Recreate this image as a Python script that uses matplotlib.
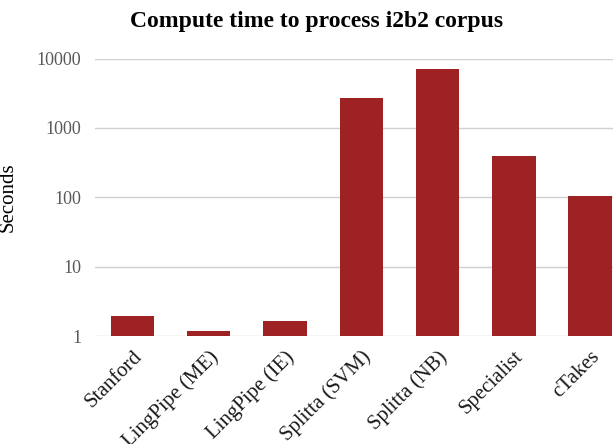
import matplotlib
matplotlib.use('Agg')
import matplotlib.pyplot as plt
from matplotlib.ticker import FixedLocator, NullLocator

# Данные с графика
tools = ['Stanford', 'LingPipe (ME)', 'LingPipe (IE)', 'Splitta (SVM)',
         'Splitta (NB)', 'Specialist', 'cTakes']
seconds = [1.95, 1.18, 1.67, 2700, 7150, 400, 106]
y_ticks = [1, 10, 100, 1000, 10000]
y_tick_labels = ['1', '10', '100', '1000', '10000']

plt.rcParams['font.family'] = ['Liberation Serif', 'DejaVu Serif']

fig = plt.figure(figsize=(6.13, 4.44), dpi=100)
ax = fig.add_axes([0.155, 0.243, 0.845, 0.625])

x = range(len(tools))
ax.bar(x, seconds, width=0.57, color='#9E2224', zorder=3)

ax.set_yscale('log')
ax.set_ylim(1, 10000)
ax.set_xlim(-0.49, 6.3)
ax.yaxis.set_major_locator(FixedLocator(y_ticks))
ax.yaxis.set_minor_locator(NullLocator())
ax.set_yticklabels(y_tick_labels, fontsize=13, color='#595959')

ax.set_xticks(list(x))
ax.set_xticklabels(tools, rotation=45, ha='right', rotation_mode='anchor',
                   fontsize=15, color='#1a1a1a')
ax.tick_params(axis='both', length=0)
ax.tick_params(axis='y', pad=10)
ax.tick_params(axis='x', pad=8)

# Сетка и рамка
ax.grid(axis='y', color='#d0d0d0', linewidth=1, zorder=0)
for s in ax.spines.values():
    s.set_visible(False)

ax.set_ylabel('Seconds', fontsize=15)
ax.yaxis.set_label_coords(-0.149, 0.5)
fig.text(0.517, 0.952, 'Compute time to process i2b2 corpus',
         ha='center', va='center', fontsize=17, fontweight='bold')

fig.savefig('out.png', dpi=100)
